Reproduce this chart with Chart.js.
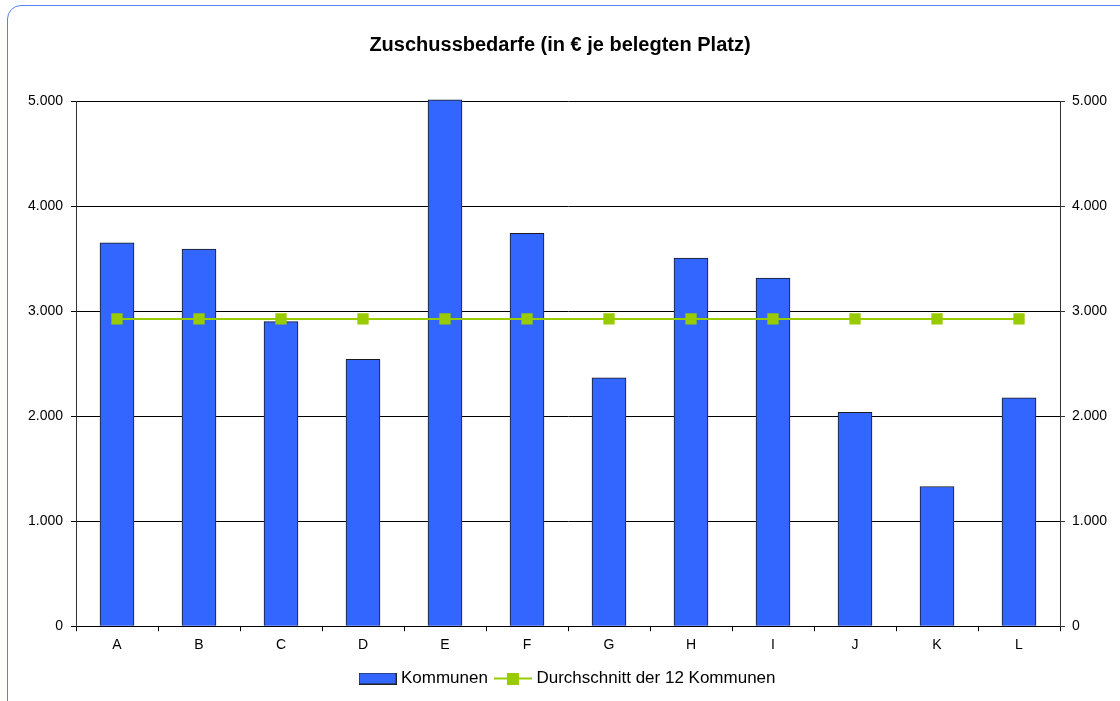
<!DOCTYPE html>
<html>
<head>
<meta charset="utf-8">
<script src="https://cdn.jsdelivr.net/npm/chart.js@4"></script>
<style>
  html, body { margin: 0; padding: 0; background: #fff; overflow: hidden; }
  #frame {
    position: absolute; left: 7px; top: 5px; width: 1200px; height: 800px;
    border: 1px solid #5a7ff2; border-radius: 14px; box-sizing: border-box;
  }
  #wrap { position: absolute; left: 0; top: 0; width: 1120px; height: 701px; }
</style>
</head>
<body>
<div id="frame"></div>
<div id="wrap"><canvas id="mychart" width="1120" height="701"></canvas></div>
<script>
// Daten
const kommunen = ["A", "B", "C", "D", "E", "F", "G", "H", "I", "J", "K", "L"]
const zuschuss = [3650, 3590, 2900, 2540, 5010, 3740, 2365, 3505, 3315, 2035, 1330, 2175]
const durchschnitt = [2925, 2925, 2925, 2925, 2925, 2925, 2925, 2925, 2925, 2925, 2925, 2925]
const yTicks = [0, 1000, 2000, 3000, 4000, 5000]

const FONT = "'Liberation Sans', Arial, sans-serif"
const BLUE = '#3366ff'
const GREEN = '#99cc00'

// deutsche Tausenderpunkte
function fmt(v) {
    return String(v).replace(/\B(?=(\d{3})+(?!\d))/g, '.')
}

// kleine Legendensymbole
function legendBar() {
    const c = document.createElement('canvas')
    c.width = 38; c.height = 12
    const g = c.getContext('2d')
    g.fillStyle = BLUE
    g.fillRect(1, 1, 36, 10)
    g.strokeStyle = '#222'
    g.lineWidth = 1
    g.strokeRect(0.5, 0.5, 37, 11)
    return c
}
function legendLine() {
    const c = document.createElement('canvas')
    c.width = 38; c.height = 12
    const g = c.getContext('2d')
    g.strokeStyle = GREEN
    g.lineWidth = 2
    g.beginPath(); g.moveTo(0, 6); g.lineTo(38, 6); g.stroke()
    g.fillStyle = GREEN
    g.fillRect(13, 0, 12, 12)
    return c
}

// Legende etwas nach rechts schieben
const legendShift = {
    id: 'legendShift',
    afterLayout(chart) {
        const lg = chart.legend
        if (lg) { lg.left += 9; lg.right += 9 }
    }
}

const ctx = document.getElementById('mychart').getContext('2d')

new Chart(ctx, {
    type: 'bar',
    data: {
        labels: kommunen,
        datasets: [{
            type: 'bar',
            label: 'Kommunen',
            data: zuschuss,
            backgroundColor: BLUE,
            borderColor: '#1a1a1a',
            borderWidth: 1,
            barThickness: 34,
            clip: false,
            yAxisID: 'y',
            order: 1
        }, {
            type: 'line',
            label: 'Durchschnitt der 12 Kommunen',
            data: durchschnitt,
            borderColor: GREEN,
            backgroundColor: GREEN,
            borderWidth: 2,
            pointStyle: 'rect',
            pointRadius: 8,
            pointHoverRadius: 8,
            pointBorderWidth: 0,
            yAxisID: 'y',
            order: 0
        }]
    },
    options: {
        responsive: false,
        animation: false,
        devicePixelRatio: 1,
        layout: { padding: { top: 30, bottom: 4, left: 0, right: 0 } },
        plugins: {
            title: {
                display: true,
                text: 'Zuschussbedarfe (in € je belegten Platz)',
                color: '#000',
                font: { family: FONT, size: 20, weight: 'bold' },
                padding: { top: 3, bottom: 44 }
            },
            legend: {
                position: 'bottom',
                labels: {
                    usePointStyle: true,
                    pointStyleWidth: 30,
                    padding: 10,
                    color: '#000',
                    font: { family: FONT, size: 17 },
                    generateLabels: (chart) => chart.data.datasets.map((ds, i) => ({
                        text: ds.label,
                        datasetIndex: i,
                        pointStyle: i === 0 ? legendBar() : legendLine(),
                        fontColor: '#000',
                        hidden: false,
                        lineWidth: 0
                    }))
                }
            },
            tooltip: { enabled: false }
        },
        scales: {
            x: {
                grid: {
                    offset: true,
                    drawOnChartArea: false,
                    color: '#000',
                    tickLength: 5
                },
                border: { color: '#000', width: 1 },
                ticks: { color: '#000', font: { family: FONT, size: 14 }, padding: 6 }
            },
            y: {
                position: 'left',
                min: 0, max: 5000,
                afterBuildTicks: (axis) => { axis.ticks = yTicks.map(v => ({ value: v })) },
                afterFit: (axis) => { axis.width = 76 },
                grid: { color: '#000', tickLength: 5 },
                border: { color: '#333', width: 1 },
                ticks: { color: '#000', font: { family: FONT, size: 14 }, padding: 8, callback: (v) => fmt(v) }
            },
            y1: {
                position: 'right',
                min: 0, max: 5000,
                afterBuildTicks: (axis) => { axis.ticks = yTicks.map(v => ({ value: v })) },
                afterFit: (axis) => { axis.width = 60 },
                grid: { drawOnChartArea: false, color: '#333', tickLength: 5 },
                border: { color: '#333', width: 1 },
                ticks: { color: '#000', font: { family: FONT, size: 14 }, padding: 7, callback: (v) => fmt(v) }
            }
        }
    },
    plugins: [legendShift]
})
</script>
</body>
</html>
